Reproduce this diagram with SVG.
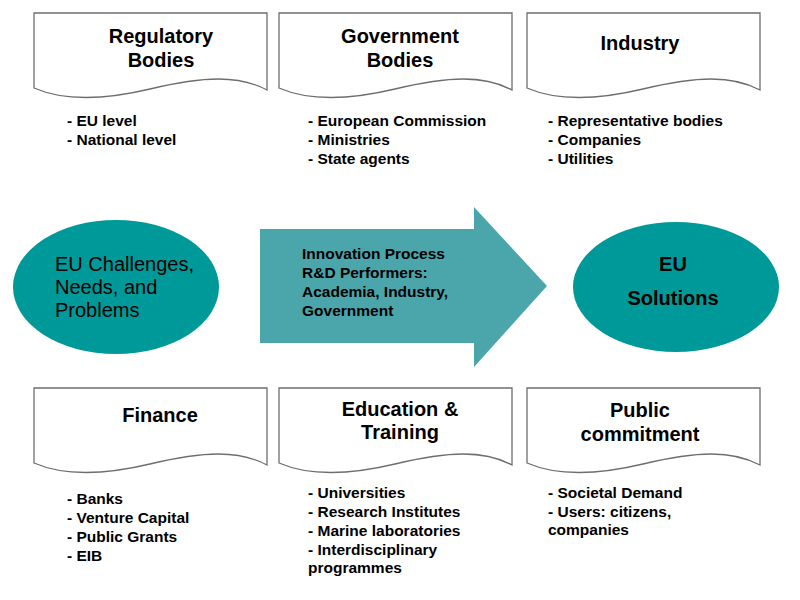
<svg xmlns="http://www.w3.org/2000/svg" xmlns:xlink="http://www.w3.org/1999/xlink" width="800" height="600" viewBox="0 0 800 600">
<style>
.doc{fill:#fff;stroke:#6e6e6e;stroke-width:1.3}
.t{font-family:"Liberation Sans",Arial,sans-serif;font-weight:bold;font-size:20px;fill:#000;text-anchor:middle}
.l{font-family:"Liberation Sans",Arial,sans-serif;font-weight:bold;font-size:15.5px;fill:#000}
.e{fill:#009999}
.n{font-family:"Liberation Sans",Arial,sans-serif;font-size:20px;fill:#000}
</style>
<defs>
<path id="docshape" d="M0,0 H233 V77 C205,62 170,63 116,76 C70,87 30,88 0,75 Z"/>
</defs>
<rect width="800" height="600" fill="#fff"/>
<g id="regulatory">
<use xlink:href="#docshape" class="doc" transform="translate(34,13)"/>
<text class="t" x="161" y="43">Regulatory</text>
<text class="t" x="161" y="67">Bodies</text>
<text class="l" x="67" y="126">- EU level</text>
<text class="l" x="67" y="145">- National level</text>
</g>
<g id="government">
<use xlink:href="#docshape" class="doc" transform="translate(279,13)"/>
<text class="t" x="400" y="43">Government</text>
<text class="t" x="400" y="67">Bodies</text>
<text class="l" x="308" y="126">- European Commission</text>
<text class="l" x="308" y="145">- Ministries</text>
<text class="l" x="308" y="164">- State agents</text>
</g>
<g id="industry">
<use xlink:href="#docshape" class="doc" transform="translate(527,13)"/>
<text class="t" x="640" y="50">Industry</text>
<text class="l" x="548" y="126">- Representative bodies</text>
<text class="l" x="548" y="145">- Companies</text>
<text class="l" x="548" y="164">- Utilities</text>
</g>
<g id="challenges">
<ellipse class="e" cx="116" cy="287" rx="103" ry="67"/>
<text class="n" x="55" y="271">EU Challenges,</text>
<text class="n" x="55" y="294">Needs, and</text>
<text class="n" x="55" y="317">Problems</text>
</g>
<g id="connectors">
<path id="innovation" d="M260,229 H474 V207 L547,286 L474,367 V343 H260 Z" fill="#4aa6ab"/>
<text class="l" x="302" y="259">Innovation Process</text>
<text class="l" x="302" y="278">R&amp;D Performers:</text>
<text class="l" x="302" y="297">Academia, Industry,</text>
<text class="l" x="302" y="316">Government</text>
</g>
<g id="solutions">
<ellipse class="e" cx="676" cy="287" rx="103" ry="65"/>
<text class="t" x="673" y="271">EU</text>
<text class="t" x="673" y="305">Solutions</text>
</g>
<g id="finance">
<use xlink:href="#docshape" class="doc" transform="translate(34,388)"/>
<text class="t" x="160" y="422">Finance</text>
<text class="l" x="67" y="504">- Banks</text>
<text class="l" x="67" y="523">- Venture Capital</text>
<text class="l" x="67" y="542">- Public Grants</text>
<text class="l" x="67" y="561">- EIB</text>
</g>
<g id="education">
<use xlink:href="#docshape" class="doc" transform="translate(279,388)"/>
<text class="t" x="400" y="416">Education &amp;</text>
<text class="t" x="400" y="439">Training</text>
<text class="l" x="308" y="498">- Universities</text>
<text class="l" x="308" y="517">- Research Institutes</text>
<text class="l" x="308" y="536">- Marine laboratories</text>
<text class="l" x="308" y="555">- Interdisciplinary</text>
<text class="l" x="308" y="573">programmes</text>
</g>
<g id="public">
<use xlink:href="#docshape" class="doc" transform="translate(527,388)"/>
<text class="t" x="640" y="417">Public</text>
<text class="t" x="640" y="441">commitment</text>
<text class="l" x="548" y="498">- Societal Demand</text>
<text class="l" x="548" y="517">- Users: citizens,</text>
<text class="l" x="548" y="535">companies</text>
</g>
</svg>
